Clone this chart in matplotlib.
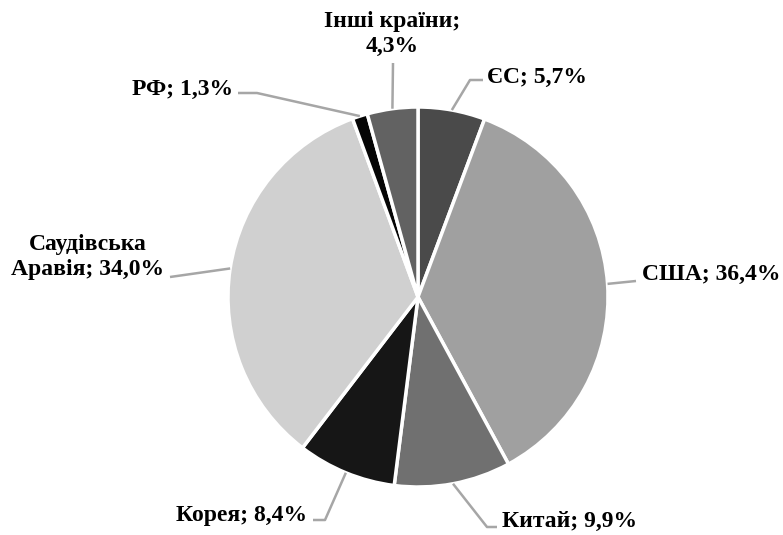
import matplotlib
matplotlib.use('Agg')
import matplotlib.pyplot as plt
import numpy as np

labels = ['ЄС', 'США', 'Китай', 'Корея', 'Саудівська\nАравія', 'РФ', 'Інші країни;\n']
shares = [5.7, 36.4, 9.9, 8.4, 34.0, 1.3, 4.3]
colors = ['#4a4a4a', '#a0a0a0', '#707070', '#161616', '#d0d0d0', '#050505', '#626262']

W, H = 783, 535
CX, CY, R = 418, 297, 190

# label layout in pixels: text anchor, ha, elbow point, line end
layout = [
    ((487, 77), 'left', (470, 80), (483, 80)),
    ((642, 274), 'left', None, (636, 281)),
    ((502, 521), 'left', (487, 527), (497, 527)),
    ((307, 516), 'right', (325, 520), (313, 520)),
    ((88, 257), 'center', None, (170, 277)),
    ((233, 89), 'right', (257, 93), (238, 93)),
    ((392, 34), 'center', None, (393, 63)),
]


def py(y):
    return H - y


plt.rcParams['font.family'] = ['Liberation Serif', 'DejaVu Serif']
fig = plt.figure(figsize=(W / 100, H / 100), dpi=100)
ax = fig.add_axes([0, 0, 1, 1])

wedges, _ = ax.pie(shares, colors=colors, startangle=90, counterclock=False,
                   center=(CX, py(CY)), radius=R, frame=True,
                   wedgeprops=dict(edgecolor='white', linewidth=2.5))
ax.set_xlim(0, W)
ax.set_ylim(0, H)
ax.set_aspect('equal')
ax.axis('off')

for w, lab, val, (tpos, ha, elbow, end) in zip(wedges, labels, shares, layout):
    ang = np.deg2rad((w.theta1 + w.theta2) / 2)
    x0 = CX + R * np.cos(ang)
    y0 = py(CY) + R * np.sin(ang)
    pts = [(x0, y0)]
    if elbow is not None:
        pts.append((elbow[0], py(elbow[1])))
    pts.append((end[0], py(end[1])))
    xs, ys = zip(*pts)
    ax.plot(xs, ys, color='#a6a6a6', lw=1.8, solid_capstyle='butt')
    val_s = f'{val:.1f}%'.replace('.', ',')
    if lab.endswith('\n'):
        txt = lab + val_s
    else:
        txt = f'{lab}; {val_s}'
    ax.text(tpos[0], py(tpos[1]), txt, ha=ha, va='center', ma='center',
            fontsize=17, fontweight='bold', color='black', linespacing=1.3)

fig.savefig('out.png', dpi=100)
